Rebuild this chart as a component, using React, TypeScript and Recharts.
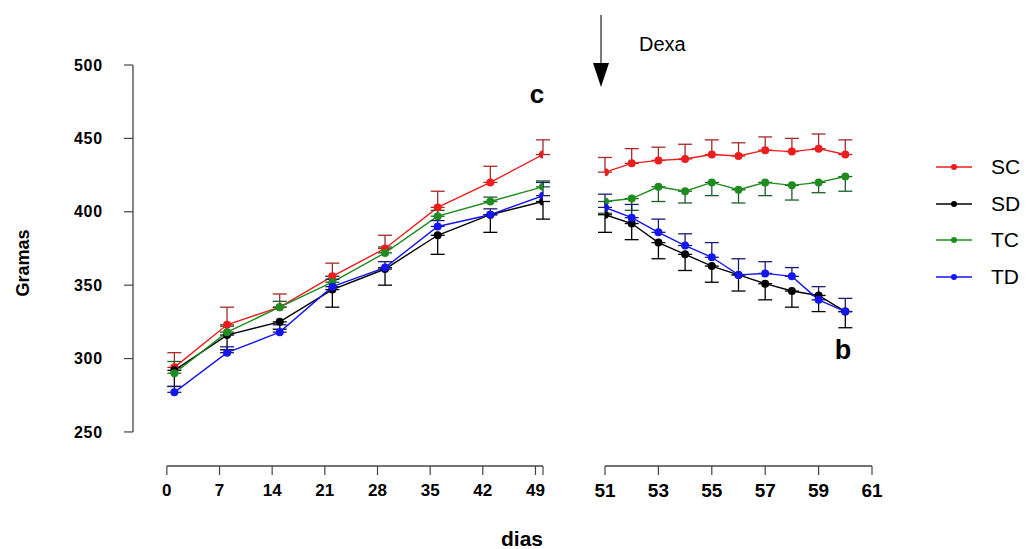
import { LineChart, Line, XAxis, YAxis, ErrorBar, ReferenceLine } from "recharts"

const leftDays = [1, 8, 15, 22, 29, 36, 43, 50]
const rightDays = [51, 52, 53, 54, 55, 56, 57, 58, 59, 60]

const scLeft = [294, 323, 335, 356, 375, 403, 420, 439]
const sdLeft = [292, 316, 325, 347, 361, 384, 398, 407]
const tcLeft = [290, 318, 335, 352, 372, 397, 407, 417]
const tdLeft = [277, 304, 318, 349, 362, 390, 398, 411]

const scLeftErr = [10, 12, 9, 9, 9, 11, 11, 10]
const sdLeftErr = [11, 10, 5, 12, 11, 13, 12, 12]
const tcLeftErr = [8, 4, 4, 4, 4, 4, 3, 4]
const tdLeftErr = [4, 4, 5, 5, 4, 4, 4, 9]

const scRight = [427, 433, 435, 436, 439, 438, 442, 441, 443, 439]
const sdRight = [398, 392, 379, 371, 363, 357, 351, 346, 343, 332]
const tcRight = [407, 409, 417, 414, 420, 415, 420, 418, 420, 424]
const tdRight = [403, 396, 386, 377, 369, 357, 358, 356, 340, 332]

const scRightErr = [10, 10, 9, 10, 10, 9, 9, 9, 10, 10]
const sdRightErr = [12, 11, 11, 11, 11, 11, 11, 11, 11, 11]
const tcRightErr = [8, 8, 10, 8, 9, 9, 9, 10, 7, 10]
const tdRightErr = [9, 9, 9, 8, 10, 11, 8, 6, 9, 9]

const leftTicks = [0, 7, 14, 21, 28, 35, 42, 49, 50]
const rightTicks = [51, 53, 55, 57, 59, 61]
const yTicks = [250, 300, 350, 400, 450, 500]

const series = [
  { key: "SC", color: "#ee1c1c", barColor: "#a52a2a" },
  { key: "SD", color: "#000000", barColor: "#000000" },
  { key: "TC", color: "#1e8c1e", barColor: "#1a5e2a" },
  { key: "TD", color: "#1515f0", barColor: "#1a1a70" },
]

const Y_MIN = 226.8
const Y_MAX = 500
const FONT = "'Liberation Sans', Arial, sans-serif"

// error bars are one-sided: [below, above]
const leftData = leftDays.map((day, i) => ({
  day,
  SC: scLeft[i],
  SD: sdLeft[i],
  TC: tcLeft[i],
  TD: tdLeft[i],
  SCe: [0, scLeftErr[i]],
  SDe: [sdLeftErr[i], 0],
  TCe: [0, tcLeftErr[i]],
  TDe: [0, tdLeftErr[i]],
}))

const rightData = rightDays.map((day, i) => ({
  day,
  SC: scRight[i],
  SD: sdRight[i],
  TC: tcRight[i],
  TD: tdRight[i],
  SCe: [0, scRightErr[i]],
  SDe: [sdRightErr[i], 0],
  TCe: [tcRightErr[i], 0],
  TDe: [0, tdRightErr[i]],
}))

const tickStyle = { fontWeight: 700, fill: "#000", fontFamily: FONT }

function renderLines() {
  return series.map((s) => (
    <Line
      key={s.key}
      dataKey={s.key}
      stroke={s.color}
      strokeWidth={1.4}
      dot={{ r: 4, fill: s.color, stroke: s.color, strokeWidth: 0 }}
      isAnimationActive={false}
    >
      <ErrorBar dataKey={s.key + "e"} width={7} stroke={s.barColor} strokeWidth={1.3} direction="y" />
    </Line>
  ))
}

export default function App() {
  return (
    <div style={{ position: "relative", width: 1028, height: 549, background: "#fff", fontFamily: FONT }}>
      <style>{"body{margin:0} .recharts-cartesian-axis-tick-value{font-weight:700}"}</style>

      <div style={{ position: "absolute", left: 0, top: 0 }}>
        <LineChart width={560} height={549} data={leftData} margin={{ top: 65, right: 17, bottom: 43, left: 73 }}>
          <XAxis
            dataKey="day"
            type="number"
            domain={[-4.5, 50]}
            ticks={leftTicks}
            interval={0}
            tickFormatter={(v: number) => (v === 50 ? "" : String(v))}
            axisLine={false}
            tickLine={{ stroke: "#444", strokeWidth: 1.2 }}
            tickSize={9}
            tickMargin={9}
            height={40}
            fontSize={17}
            tick={tickStyle}
            allowDataOverflow
          />
          <YAxis
            type="number"
            domain={[Y_MIN, Y_MAX]}
            ticks={yTicks}
            interval={0}
            axisLine={false}
            tickLine={{ stroke: "#444", strokeWidth: 1.2 }}
            tickSize={9}
            tickMargin={21}
            width={60}
            fontSize={16}
            tick={{ ...tickStyle, letterSpacing: 0.8 }}
            allowDataOverflow
          />
          <ReferenceLine segment={[{ x: 0, y: Y_MIN }, { x: 50, y: Y_MIN }]} stroke="#444" strokeWidth={1.3} ifOverflow="visible" />
          <ReferenceLine segment={[{ x: -4.5, y: 250 }, { x: -4.5, y: 500 }]} stroke="#444" strokeWidth={1.3} ifOverflow="visible" />
          {renderLines()}
        </LineChart>
      </div>

      <div style={{ position: "absolute", left: 560, top: 0 }}>
        <LineChart width={468} height={549} data={rightData} margin={{ top: 65, right: 156, bottom: 43, left: 45 }}>
          <XAxis
            dataKey="day"
            type="number"
            domain={[51, 61]}
            ticks={rightTicks}
            interval={0}
            axisLine={{ stroke: "#444", strokeWidth: 1.3 }}
            tickLine={{ stroke: "#444", strokeWidth: 1.2 }}
            tickSize={9}
            tickMargin={9}
            height={40}
            fontSize={19}
            tick={tickStyle}
            allowDataOverflow
          />
          <YAxis type="number" domain={[Y_MIN, Y_MAX]} hide allowDataOverflow />
          {renderLines()}
        </LineChart>
      </div>

      {/* axis titles and annotations */}
      <div
        style={{
          position: "absolute",
          left: 23,
          top: 263,
          transform: "translate(-50%, -50%) rotate(-90deg)",
          fontSize: 18,
          fontWeight: 700,
          whiteSpace: "nowrap",
        }}
      >
        Gramas
      </div>
      <div style={{ position: "absolute", left: 522, top: 539, transform: "translate(-50%, -50%)", fontSize: 21, fontWeight: 700 }}>
        dias
      </div>
      <div style={{ position: "absolute", left: 537, top: 94, transform: "translate(-50%, -50%)", fontSize: 26, fontWeight: 700 }}>
        c
      </div>
      <div style={{ position: "absolute", left: 843, top: 350, transform: "translate(-50%, -50%)", fontSize: 27, fontWeight: 700 }}>
        b
      </div>
      <div style={{ position: "absolute", left: 639, top: 44, transform: "translateY(-50%)", fontSize: 20 }}>Dexa</div>
      <svg style={{ position: "absolute", left: 0, top: 0 }} width={1028} height={549} pointerEvents="none">
        <line x1={601} y1={15} x2={601} y2={66} stroke="#333" strokeWidth={1.3} />
        <polygon points="593,63 609,63 601,87" fill="#000" />
      </svg>

      {/* legend */}
      {series.map((s, i) => (
        <div
          key={s.key}
          style={{ position: "absolute", left: 935, top: 167 + i * 36.7, transform: "translateY(-50%)", display: "flex", alignItems: "center" }}
        >
          <svg width={38} height={10}>
            <line x1={1} y1={5} x2={37} y2={5} stroke={s.color} strokeWidth={1.3} />
            <circle cx={19} cy={5} r={3} fill={s.color} />
          </svg>
          <span style={{ marginLeft: 18, fontSize: 21, color: "#000" }}>{s.key}</span>
        </div>
      ))}
    </div>
  )
}
